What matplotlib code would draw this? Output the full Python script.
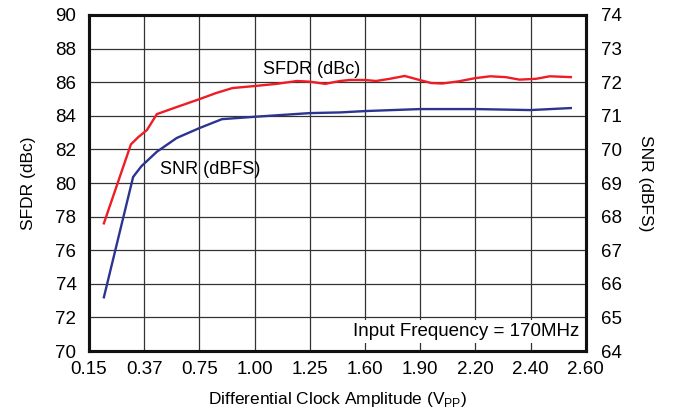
import numpy as np
import matplotlib.pyplot as plt

plt.rcParams['font.family'] = ['Liberation Sans', 'DejaVu Sans']

# x positions are in grid-division units (evenly spaced tick labels)
tick_labels = ['0.15', '0.37', '0.75', '1.00', '1.25', '1.60', '1.90', '2.20', '2.40', '2.60']

sfdr_x = [0.27, 0.76, 0.9, 1.05, 1.23, 1.59, 2.01, 2.3, 2.6, 3.0, 3.4, 3.77, 4.0,
          4.28, 4.55, 4.73, 5.0, 5.2, 5.45, 5.72, 6.0, 6.2, 6.4, 6.7, 7.0, 7.27, 7.55,
          7.8, 8.1, 8.35, 8.73]
sfdr = [77.6, 82.3, 82.75, 83.15, 84.1, 84.52, 85.0, 85.35, 85.65, 85.77, 85.9, 86.07, 86.03,
        85.9, 86.07, 86.13, 86.13, 86.07, 86.2, 86.37, 86.12, 85.95, 85.92, 86.05, 86.24, 86.35, 86.3,
        86.15, 86.2, 86.35, 86.3]

snr_x = [0.27, 0.8, 0.95, 1.23, 1.59, 2.01, 2.41, 3.0, 4.0, 4.55, 5.0, 6.0, 7.0, 8.0, 8.73]
snr = [65.6, 69.18, 69.5, 69.93, 70.34, 70.64, 70.9, 70.97, 71.08, 71.1, 71.14, 71.2, 71.2, 71.17, 71.23]

fig = plt.figure(figsize=(6.74, 4.15), dpi=100)
ax = fig.add_axes([0.132, 0.154, 0.737, 0.810])
ax2 = ax.twinx()

ax.set_xlim(0, 9)
ax.set_ylim(70, 90)
ax2.set_ylim(64, 74)
ax.set_xticks(range(10))
ax.set_xticklabels(tick_labels)
ax.set_yticks(range(70, 91, 2))
ax2.set_yticks(range(64, 75))

ax.grid(True, color='#333333', linewidth=0.9)
ax.tick_params(axis='y', length=0, labelsize=13.5, pad=9)
ax.tick_params(axis='x', length=0, labelsize=13.5, pad=7)
ax2.tick_params(length=0, labelsize=13.5, pad=11)
for a in (ax, ax2):
    for s in a.spines.values():
        s.set_linewidth(2.2)
        s.set_color('#111111')

ax.plot(sfdr_x, sfdr, color='#ee1c25', linewidth=1.7, zorder=3)
ax2.plot(snr_x, snr, color='#2b3590', linewidth=1.7, zorder=3)

ax.text(3.15, 86.75, 'SFDR (dBc)', fontsize=13, ha='left', va='center')
ax.text(1.28, 80.8, 'SNR (dBFS)', fontsize=13, ha='left', va='center')
ax.text(8.88, 71.15, 'Input Frequency = 170MHz', fontsize=13.5, ha='right', va='center',
        bbox=dict(facecolor='white', edgecolor='none', pad=2), zorder=5)

ax.set_ylabel('SFDR (dBc)', fontsize=12.5, labelpad=14)
ax2.set_ylabel('SNR (dBFS)', fontsize=12.5, rotation=-90, labelpad=22)
ax.set_xlabel('Differential Clock Amplitude (V$_{\\mathregular{PP}}$)', fontsize=12.5, labelpad=9)

fig.savefig('out.png', dpi=100)
